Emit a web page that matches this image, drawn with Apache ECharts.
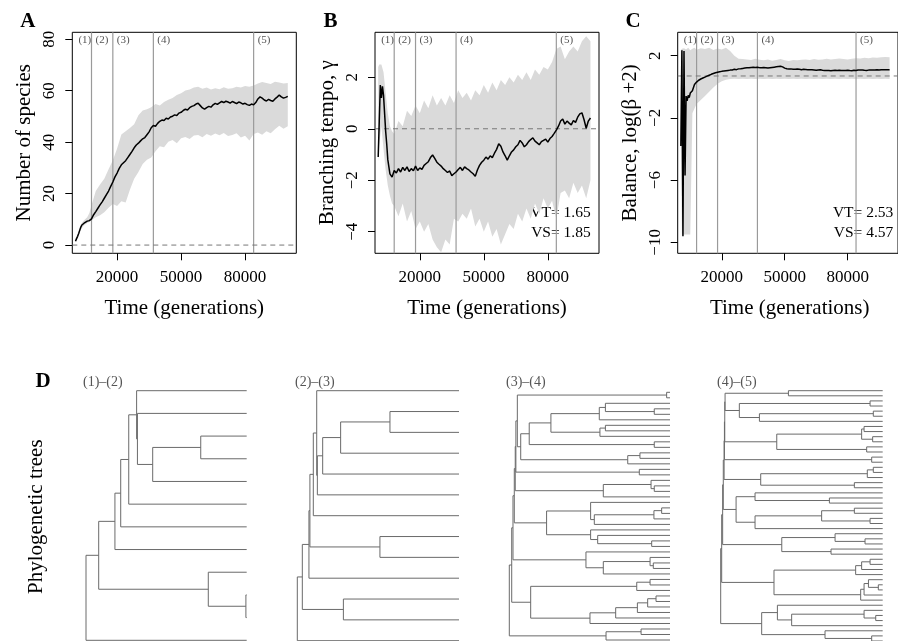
<!DOCTYPE html>
<html><head><meta charset="utf-8">
<script src="https://cdn.jsdelivr.net/npm/echarts@6/dist/echarts.min.js"></script>
<style>html,body{margin:0;padding:0;background:#fff}#c{width:898px;height:641px}</style>
</head><body><div id="c"></div>
<script>
// ---------------- DATA ----------------
const genK = [0.5,1,1.5,2,2.5,3,3.5,4,4.5,5,
 6,7,8,9,10,11,12,13,14,15,
 16,17,18,19,20,21,22,23,24,25,
 26,27,28,29,30,31,32,33,34,35,
 36,37,38,39,40,41,42,43,44,45,
 46,47,48,49,50,51,52,53,54,55,
 56,57,58,59,60,61,62,63,64,65,
 66,67,68,69,70,71,72,73,74,75,
 76,77,78,79,80,81,82,83,84,85,
 86,87,88,89,90,91,92,93,94,95,
 96,97,98,99,100];
const bandK = [0.5,1,2,3,4,5,6,7,8,
 10,12,14,16,18,20,22,24,26,28,
 30,32,34,36,38,40,42,44,46,48,
 50,52,54,56,58,60,62,64,66,68,
 70,72,74,76,78,80,82,84,86,88,
 90,92,94,96,98,100];

const meanA = [1.5,2.5,3.4,4.5,5.8,7.0,7.8,8.3,8.5,8.8,
 9.3,9.5,10.2,11.8,13.0,14.3,15.6,16.8,18.2,19.6,
 21.0,22.8,24.5,26.5,28.0,29.8,31.2,32.0,32.8,34.0,
 35.2,36.4,37.8,38.9,39.6,40.5,41.3,41.8,42.9,44.0,
 45.6,46.5,46.2,47.3,48.1,48.6,48.4,49.3,49.0,49.8,
 50.1,50.6,50.4,51.3,51.6,52.3,52.8,52.5,53.4,53.9,
 54.2,54.8,55.1,54.2,53.3,52.8,53.4,53.9,53.6,54.5,
 55.1,54.7,55.3,55.8,55.4,55.9,55.6,55.2,55.8,55.4,
 55.0,55.6,55.3,54.8,55.1,54.6,54.3,54.8,54.5,55.4,
 56.8,57.6,57.1,56.4,56.0,56.6,56.2,55.9,56.8,57.5,
 58.3,57.6,57.1,57.4,57.8];
const lowA = [1.5,2.0,3.8,6.0,7.2,8.0,8.6,9.0,9.6,
 10.8,11.6,12.8,14.5,16.0,15.2,17.0,16.5,21.5,25.8,
 28.4,31.5,33.2,34.0,36.5,38.4,38.0,40.2,40.8,39.6,
 41.5,42.0,41.2,42.6,42.8,41.9,43.2,42.5,43.4,42.7,
 43.6,42.4,42.8,43.5,41.8,42.5,40.6,43.2,43.8,42.9,
 44.2,43.5,45.0,46.4,45.2,46.2];
const highA = [2.5,3.2,5.4,8.0,9.2,10.0,10.8,12.5,15.5,
 21.0,23.5,25.8,29.5,33.0,37.5,43.0,44.2,45.5,47.0,
 50.5,52.3,52.8,53.6,54.8,54.2,55.6,56.5,57.2,58.3,
 59.0,60.1,60.5,61.2,61.5,60.8,61.2,60.5,61.0,60.6,
 61.3,60.8,61.0,61.5,61.2,61.8,61.5,62.0,62.8,63.4,
 63.0,62.6,63.5,63.2,62.8,63.0];

const meanB = [-1.1,0.3,1.7,1.2,1.65,1.3,0.6,-0.1,-0.6,-1.2,
 -1.75,-1.88,-1.62,-1.72,-1.55,-1.68,-1.50,-1.62,-1.48,-1.66,
 -1.55,-1.63,-1.45,-1.62,-1.52,-1.58,-1.42,-1.35,-1.28,-1.12,
 -1.02,-1.15,-1.30,-1.38,-1.45,-1.55,-1.62,-1.70,-1.64,-1.82,
 -1.75,-1.68,-1.58,-1.50,-1.62,-1.48,-1.55,-1.60,-1.68,-1.75,
 -1.85,-1.60,-1.42,-1.30,-1.22,-1.10,-1.18,-1.05,-1.12,-0.95,
 -0.80,-0.58,-0.68,-0.90,-1.05,-1.22,-1.05,-0.90,-0.82,-0.70,
 -0.62,-0.45,-0.55,-0.70,-0.62,-0.50,-0.42,-0.35,-0.48,-0.55,
 -0.62,-0.50,-0.45,-0.40,-0.52,-0.38,-0.30,-0.18,-0.05,0.10,
 0.30,0.38,0.18,0.30,0.22,0.15,0.32,0.25,0.45,0.58,
 0.62,0.35,0.02,0.30,0.42];
const lowB = [-1.3,-0.6,0.1,-0.8,-1.6,-2.2,-2.6,-2.9,-3.0,
 -3.4,-2.9,-3.6,-3.2,-3.9,-3.6,-4.0,-3.7,-4.3,-4.6,
 -4.8,-4.3,-4.5,-3.5,-3.6,-3.3,-3.5,-3.1,-3.8,-3.5,
 -4.0,-3.6,-4.2,-3.9,-4.5,-4.1,-3.7,-3.9,-3.3,-3.6,
 -3.1,-3.5,-2.9,-3.3,-2.7,-3.1,-2.8,-3.5,-2.5,-2.4,
 -2.7,-2.1,-2.5,-2.2,-2.7,-2.0];
const highB = [2.4,2.5,2.5,2.2,1.4,0.6,0.1,-0.1,-0.2,
 0.3,0.1,0.7,0.5,0.9,0.6,1.1,0.8,1.3,0.9,
 1.2,0.9,1.3,1.0,1.5,1.2,1.4,1.1,1.5,1.3,
 1.7,1.4,1.8,1.5,1.9,1.7,2.0,1.8,2.1,1.9,
 2.2,1.9,2.3,2.1,2.4,2.3,2.6,3.1,3.2,2.7,
 3.0,3.2,3.0,3.4,3.6,3.4];

const meanC = [-3.8,2.35,-9.6,2.3,-5.7,-0.6,-0.9,-0.55,-0.7,-0.4,
 -0.25,0.15,0.30,0.42,0.50,0.56,0.62,0.68,0.74,0.80,
 0.85,0.90,0.93,0.96,0.99,1.01,1.03,1.05,1.07,1.08,
 1.12,1.10,1.15,1.16,1.18,1.20,1.22,1.22,1.24,1.25,
 1.24,1.25,1.23,1.22,1.24,1.22,1.20,1.22,1.24,1.26,
 1.28,1.30,1.32,1.28,1.20,1.16,1.14,1.15,1.13,1.12,
 1.14,1.12,1.10,1.12,1.11,1.10,1.09,1.10,1.08,1.06,
 1.08,1.09,1.06,1.04,1.05,1.04,1.03,1.05,1.06,1.04,
 1.06,1.05,1.04,1.05,1.06,1.04,1.03,1.06,1.05,1.08,
 1.07,1.08,1.06,1.05,1.07,1.08,1.07,1.08,1.09,1.08,
 1.10,1.09,1.10,1.09,1.10];
const lowC = [-3.8,-9.5,-9.5,-9.5,-9.5,-9.5,-1.7,-1.4,-1.1,
 -0.85,-0.6,-0.32,-0.05,0.2,0.35,0.45,0.5,0.51,0.5,
 0.52,0.5,0.51,0.5,0.52,0.5,0.51,0.5,0.52,0.5,
 0.51,0.5,0.52,0.5,0.51,0.5,0.52,0.5,0.51,0.5,
 0.52,0.5,0.51,0.5,0.52,0.5,0.51,0.5,0.52,0.5,
 0.51,0.5,0.52,0.5,0.51,0.5];
const highC = [2.35,2.45,2.48,2.4,2.5,2.35,2.45,2.5,2.38,
 2.48,2.42,2.5,2.36,2.46,2.4,2.5,2.3,2.0,1.8,
 1.78,1.75,1.72,1.80,1.74,1.70,1.76,1.68,1.72,1.78,
 1.70,1.66,1.72,1.70,1.74,1.76,1.72,1.78,1.74,1.76,
 1.80,1.75,1.78,1.82,1.78,1.76,1.80,1.84,1.82,1.86,
 1.84,1.88,1.86,1.90,1.92,1.90];

const epochs = [8000, 18000, 37000, 84000];
const epochLabelT = [0, 8000, 18000, 37000, 84000];
const epochNames = ['(1)','(2)','(3)','(4)','(5)'];
const xTicks = [20000, 50000, 80000];
const yTicksA = [0, 20, 40, 60, 80];
const yTicksB = [-4, -2, 0, 2];
const yTicksC = [-10, -6, -2, 2];
const refA = 0, refB = 0, refC = Math.log(2);
const statsB = ['VT= 1.65', 'VS= 1.85'];
const statsC = ['VT= 2.53', 'VS= 4.57'];
const panelLetters = ['A', 'B', 'C', 'D'];
const yTitles = ['Number of species', 'Branching tempo, \u03b3', 'Balance, log(\u03b2 +2)'];
const xTitle = 'Time (generations)';
const treeLabels = ['(1)\u2013(2)', '(2)\u2013(3)', '(3)\u2013(4)', '(4)\u2013(5)'];

const tree1 = "((((((t,(t,((t,t)71.4,t)41.5)32)31.5,t)26.6,t)21.6,t)18,(t,(t,t)99.5)76.1)7.9,t)0";
const tree2 = "((((((t,((((t,t)57.3,t)26.8,t)15.7,t)12.4)12,t)9.9,(t,t)51.1)7.8,t)7.2,(t,t)28.5)3.1,t)0";
const t3N88 = "((((t,(t,t)90.2)59.8,t)56,((t,t)59.8,t)56.4)25.9,(t,t)90.2)12.4";
const t3N60 = "(" + t3N88 + ",((t,t)81.3,t)73.7)7.1";
const t3N55 = "(((t,t)97.9," + t3N60 + ")5,(t,t)80.9)4.1";
const t3N50 = "(" + t3N55 + ",((t,(t,t)90.2)88.2,t)58.5)3.7";
const t3N140 = "((t,(((t,t)94.8,t)90,t)52.9)50.6,(t,(t,(t,t)88.6)55)50.6)23.2";
const t3N40 = "((" + t3N50 + "," + t3N140 + ")3.1,(t,((t,(t,t)89.6)87.6,t)58.5)47.7)2.3";
const t3N92 = "(((t,t)87.6,t)79.3,(((((t,t)91.3,t)86.1,t)79.7,t)66.2,t)50.2)13.3";
const tree3 = "((" + t3N40 + "," + t3N92 + ")1.5,((t,t)82,t)60.2)0";
const t4A1 = "(t,t)41.8";
const t4A5 = "((t,t)92.2,((t,t)94.2,t)23.9)11.5";
const t4B5 = "(((t,t)88.5,(t,t)93.8)87,(t,t)90.1)34.6";
const t4C1 = "(t,t)93.2";
const t4D4 = "(((t,t)94.2,t)90.5,(t,t)82.5)24.7";
const t4E7 = "((t,(t,t)67.1)21.2,(((t,t)82.5,(t,t)92.2)62.3,t)21.2)9.5";
const t4F4 = "((t,(t,t)89.1)70.6,(t,t)68.1)37.7";
const t4G8 = "((((t,t)92.2,t)87,t)83.3,(((t,(t,t)97.3)91.2,t)88.5,t)86.4)32.9";
const t4H7 = "((t,((t,(t,t)95.7)88.5,t)43.8)35,(t,(t,t)93.2)64.4)25.3";
const tree4 = "((((((((" + t4A1 + "," + t4A5 + ")2.7," + t4B5 + ")2.5," + t4C1 + ")2.3," + t4D4 + ")2.1," +
  t4E7 + ")1.6," + t4F4 + ")1.2," + t4G8 + ")0.6," + t4H7 + ")0";

// ---------------- HELPERS ----------------
function parseNewick(s) {
  let i = 0;
  function node() {
    if (i >= s.length) return { tip: true };
    if (s[i] === '(') {
      i++;
      const ch = [];
      let guard = 0;
      while (i < s.length && guard++ < 1000) {
        ch.push(node());
        if (s[i] === ',') { i++; continue; }
        if (s[i] === ')') { i++; break; }
        break;
      }
      const j = i;
      while (i < s.length && /[0-9.]/.test(s[i])) i++;
      return { x: parseFloat(s.slice(j, i)) || 0, ch: ch };
    }
    i++;
    return { tip: true };
  }
  return node();
}
function treeSegments(str) {
  const root = parseNewick(str);
  let n = 0;
  (function lay(nd) {
    if (nd.tip) { nd.y = ++n; nd.x = 100; return; }
    nd.ch.forEach(lay);
    nd.y = (nd.ch[0].y + nd.ch[nd.ch.length - 1].y) / 2;
  })(root);
  const segs = [];
  (function walk(nd) {
    if (nd.tip) return;
    segs.push([nd.x, nd.ch[0].y, nd.x, nd.ch[nd.ch.length - 1].y]);
    nd.ch.forEach(c => { segs.push([nd.x, c.y, c.x, c.y]); walk(c); });
  })(root);
  return { segs: segs, n: n };
}
const minus = v => String(v).replace('-', '\u2212');
const plain = v => String(v);

// ---------------- LAYOUT / STYLE ----------------
const FONT = "'Liberation Serif','Times New Roman',Times,serif";
const XMIN = -1000, XMAX = 104000;
const panels = [
  { left: 72.3, min: -3.2, max: 82.7, ticks: yTicksA, mean: meanA, lo: lowA, hi: highA, ref: refA },
  { left: 375, min: -4.84, max: 3.75, ticks: yTicksB, mean: meanB, lo: lowB, hi: highB, ref: refB },
  { left: 677.7, min: -10.7, max: 3.5, ticks: yTicksC, mean: meanC, lo: lowC, hi: highC, ref: refC }
];
const TOP = 32.3, W = 224, H = 221;
const treeBoxes = [
  { left: 86, right: 246.7, top: 390.7, bottom: 640.3, lx: 83 },
  { left: 297.3, right: 459, top: 390.7, bottom: 640.7, lx: 295 },
  { left: 509.3, right: 670, top: 392.3, bottom: 640, lx: 506 },
  { left: 720.7, right: 882.7, top: 390.7, bottom: 641, lx: 717 }
];
const trees = [tree1, tree2, tree3, tree4].map(treeSegments);

const grid = [], xAxis = [], yAxis = [], series = [], graphic = [];
const txt = (text, font, fill, align) => ({ text: text, font: font, fill: fill, align: align, verticalAlign: 'middle', textAlign: align, textVerticalAlign: 'middle' });

panels.forEach((p, i) => {
  grid.push({ left: p.left, top: TOP, width: W, height: H, show: true, borderColor: '#000', borderWidth: 1, backgroundColor: 'transparent' });
  xAxis.push({
    type: 'value', gridIndex: i, min: XMIN, max: XMAX, position: 'bottom',
    axisLine: { show: false, onZero: false }, splitLine: { show: false },
    axisTick: { show: true, customValues: xTicks, length: 7, lineStyle: { color: '#000', width: 1 } },
    axisLabel: { show: true, customValues: xTicks, margin: 16, color: '#000', fontSize: 17, fontFamily: FONT, formatter: plain }
  });
  yAxis.push({
    type: 'value', gridIndex: i, min: p.min, max: p.max, position: 'left',
    axisLine: { show: false, onZero: false }, splitLine: { show: false },
    axisTick: { show: true, customValues: p.ticks, length: 7, lineStyle: { color: '#000', width: 1 } },
    axisLabel: { show: true, customValues: p.ticks, rotate: 90, margin: 14, color: '#000', fontSize: 17, fontFamily: FONT, formatter: minus }
  });
  series.push({
    type: 'custom', xAxisIndex: i, yAxisIndex: i, silent: true, z: 1, clip: true,
    data: [[bandK[0] * 1000, p.lo[0]]],
    renderItem: (params, api) => {
      const pts = [];
      for (let k = 0; k < bandK.length; k++) pts.push(api.coord([bandK[k] * 1000, p.hi[k]]));
      for (let k = bandK.length - 1; k >= 0; k--) pts.push(api.coord([bandK[k] * 1000, p.lo[k]]));
      return { type: 'polygon', shape: { points: pts }, style: { fill: '#dadada', stroke: null } };
    }
  });
  series.push({
    type: 'custom', xAxisIndex: i, yAxisIndex: i, silent: true, z: 2,
    data: epochs.map(t => [t, p.min]),
    renderItem: (params, api) => {
      const t = epochs[params.dataIndex];
      const a = api.coord([t, p.min]), b = api.coord([t, p.max]);
      return { type: 'line', shape: { x1: a[0], y1: a[1], x2: b[0], y2: b[1] }, style: { stroke: '#9a9a9a', lineWidth: 1.2 } };
    }
  });
  series.push({
    type: 'custom', xAxisIndex: i, yAxisIndex: i, silent: true, z: 3,
    data: [[XMIN, p.ref]],
    renderItem: (params, api) => {
      const a = api.coord([XMIN, p.ref]), b = api.coord([XMAX, p.ref]);
      return { type: 'line', shape: { x1: a[0], y1: a[1], x2: b[0], y2: b[1] }, style: { stroke: '#777', lineWidth: 1, lineDash: [5, 4] } };
    }
  });
  series.push({
    type: 'line', xAxisIndex: i, yAxisIndex: i, silent: true, z: 5, showSymbol: false, symbol: 'none',
    data: genK.map((k, j) => [k * 1000, p.mean[j]]),
    lineStyle: { color: '#000', width: 1.5 }
  });
  series.push({
    type: 'custom', xAxisIndex: i, yAxisIndex: i, silent: true, z: 6,
    data: epochLabelT.map(t => [t, p.max]),
    renderItem: (params, api) => {
      const pos = api.coord([epochLabelT[params.dataIndex], p.max]);
      return { type: 'text', x: pos[0] + 4, y: pos[1] + 7.5, style: txt(epochNames[params.dataIndex], '11px ' + FONT, '#555', 'left') };
    }
  });
  graphic.push({ type: 'text', x: p.left + W / 2, y: 308, silent: true, style: txt(xTitle, '21px ' + FONT, '#000', 'center') });
  graphic.push({ type: 'text', x: p.left - 47.5, y: TOP + H / 2, rotation: Math.PI / 2, silent: true, style: txt(yTitles[i], '21px ' + FONT, '#000', 'center') });
  graphic.push({ type: 'text', x: p.left - 44.5, y: 21.7, silent: true, style: txt(panelLetters[i], 'bold 21px ' + FONT, '#000', 'center') });
});

[[statsB, 590.7], [statsC, 893.3]].forEach(([st, right]) => {
  st.forEach((s, k) => {
    graphic.push({ type: 'text', x: right, y: 213.3 + k * 19.4, silent: true, style: txt(s, '15.5px ' + FONT, '#000', 'right') });
  });
});

trees.forEach((tr, j) => {
  const b = treeBoxes[j];
  const gi = 3 + j;
  grid.push({ left: b.left, top: b.top, width: b.right - b.left, height: b.bottom - b.top, show: false });
  xAxis.push({ type: 'value', gridIndex: gi, min: 0, max: 100, show: false });
  yAxis.push({ type: 'value', gridIndex: gi, min: 1, max: tr.n, inverse: true, show: false });
  series.push({
    type: 'custom', xAxisIndex: gi, yAxisIndex: gi, silent: true, z: 4,
    data: tr.segs.map(s => [s[0], s[1]]),
    renderItem: (params, api) => {
      const s = tr.segs[params.dataIndex];
      const a = api.coord([s[0], s[1]]), c = api.coord([s[2], s[3]]);
      return { type: 'line', shape: { x1: a[0], y1: a[1], x2: c[0], y2: c[1] }, style: { stroke: '#6a6a6a', lineWidth: 1 } };
    }
  });
  graphic.push({ type: 'text', x: b.lx, y: 382.7, silent: true, style: txt(treeLabels[j], '14px ' + FONT, '#555', 'left') });
});
graphic.push({ type: 'text', x: 43, y: 381.7, silent: true, style: txt(panelLetters[3], 'bold 21px ' + FONT, '#000', 'center') });
graphic.push({ type: 'text', x: 36.7, y: 516.7, rotation: Math.PI / 2, silent: true, style: txt('Phylogenetic trees', '21px ' + FONT, '#000', 'center') });

const chart = echarts.init(document.getElementById('c'), null, { renderer: 'canvas', width: 898, height: 641 });
chart.setOption({
  animation: false,
  backgroundColor: '#fff',
  grid: grid, xAxis: xAxis, yAxis: yAxis, series: series,
  graphic: { elements: graphic }
});
</script></body></html>
